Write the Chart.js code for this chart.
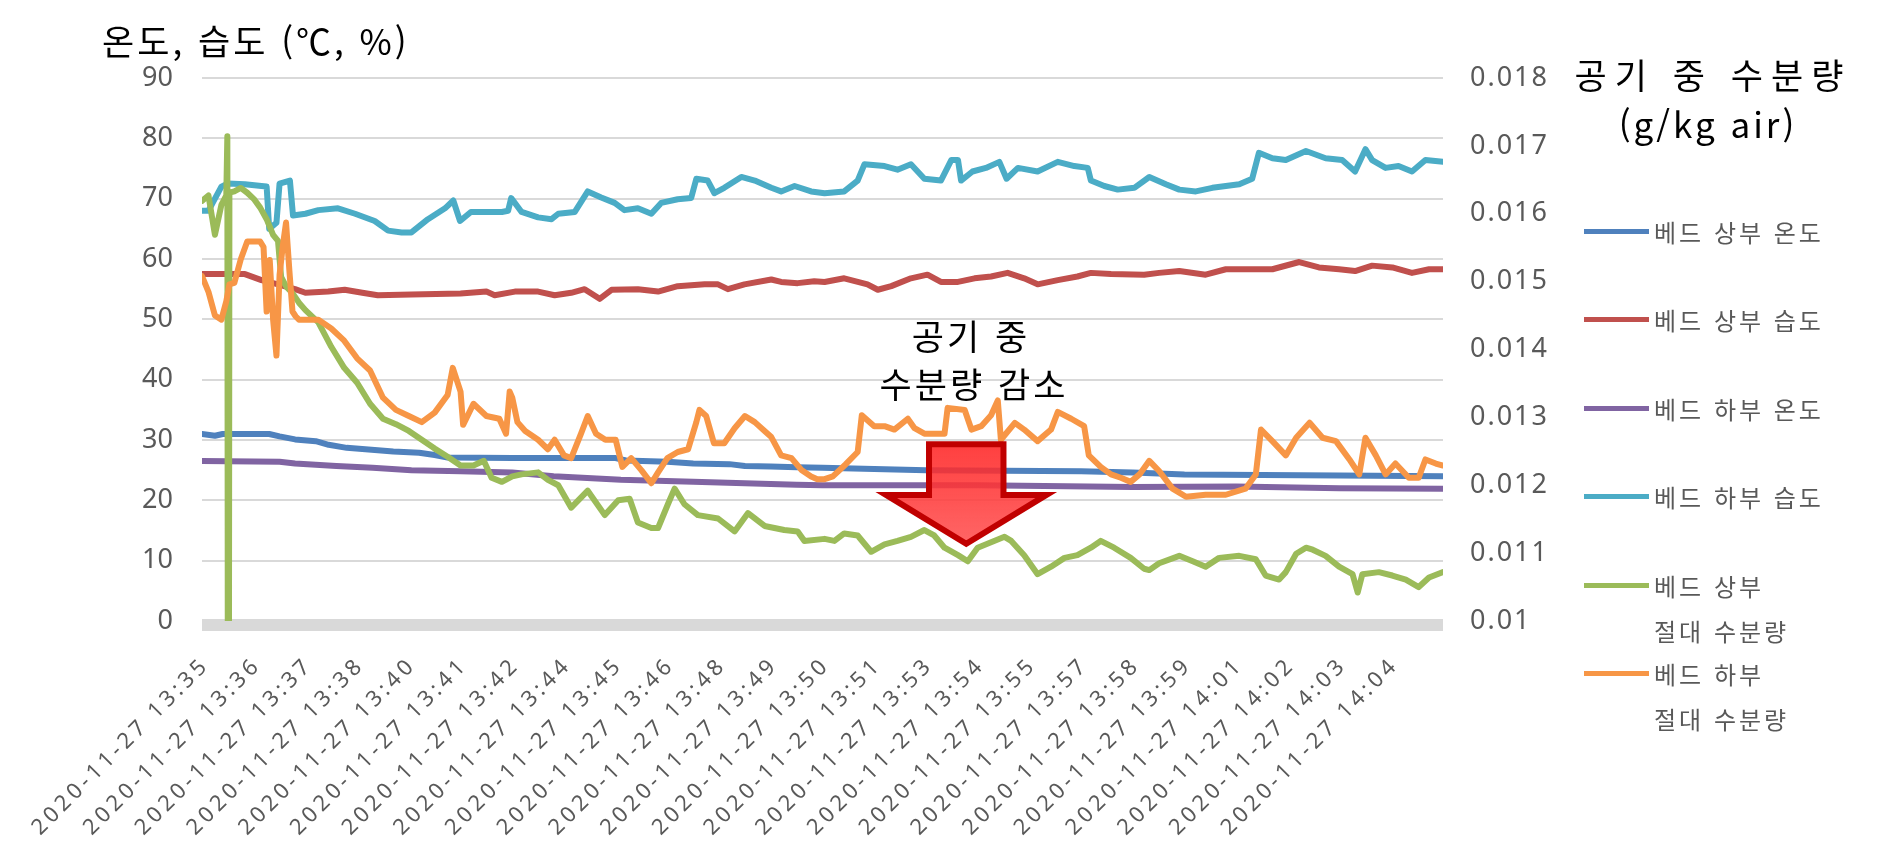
<!DOCTYPE html>
<html lang="ko">
<head>
<meta charset="utf-8">
<title>베드 온습도 및 공기 중 수분량</title>
<script src="https://cdn.jsdelivr.net/npm/chart.js@4.4.1/dist/chart.umd.min.js"></script>
<style>
  html, body { margin: 0; padding: 0; background: #fff; }
  #wrap { position: relative; width: 1879px; height: 857px; overflow: hidden;
          font-family: 'Noto Sans CJK KR', 'Noto Sans', sans-serif; }
  #wrap canvas { position: absolute; left: 0; top: 0; }
  .note { position: absolute; white-space: pre; line-height: 1; transform: translateY(-50%); color: #000; }
  .center { width: 600px; text-align: center; }
  .legend-line { position: absolute; width: 65px; height: 5px; }
  .legend-text { position: absolute; white-space: pre; font-size: 24px; line-height: 45px;
                 letter-spacing: 3px; color: #595959; }
</style>
</head>
<body>
<div id="wrap">
  <canvas id="chart" width="1879" height="857"></canvas>
  <div class="note" style="left:102px; top:39px; font-size:35px; letter-spacing:3px;">온도, 습도 (℃, %)</div>
  <div class="note center" style="left:1405px; top:73px; font-size:35px; letter-spacing:8px; padding-left:8px;">공기 중 수분량</div>
  <div class="note center" style="left:1405px; top:122px; font-size:35px; letter-spacing:3px; padding-left:3px;">(g/kg air)</div>
  <div class="note center" style="left:668px; top:334px; font-size:35px; letter-spacing:3px; padding-left:3px;">공기 중</div>
  <div class="note center" style="left:671px; top:382px; font-size:35px; letter-spacing:3px; padding-left:3px;">수분량 감소</div>
  <div id="legend"></div>
</div>
<script>
// ---- x axis: one unit = one tick label step ----
const timeLabels = [
  '2020-11-27 13:35', '2020-11-27 13:36', '2020-11-27 13:37', '2020-11-27 13:38',
  '2020-11-27 13:40', '2020-11-27 13:41', '2020-11-27 13:42', '2020-11-27 13:44',
  '2020-11-27 13:45', '2020-11-27 13:46', '2020-11-27 13:48', '2020-11-27 13:49',
  '2020-11-27 13:50', '2020-11-27 13:51', '2020-11-27 13:53', '2020-11-27 13:54',
  '2020-11-27 13:55', '2020-11-27 13:57', '2020-11-27 13:58', '2020-11-27 13:59',
  '2020-11-27 14:01', '2020-11-27 14:02', '2020-11-27 14:03', '2020-11-27 14:04'
];

// ---- readings [position, value] ----
// left axis (℃, %)
const bedTopTemp = [[0,31.0],[0.25,30.7],[0.4,31.0],[1.3,31.0],[1.5,30.6],[1.8,30.1],[2.2,29.8],[2.45,29.2],[2.8,28.7],[3.1,28.5],[3.7,28.1],[4.2,27.9],[4.5,27.5],[4.75,27.1],[6,27.0],[8,27.0],[8.2,26.6],[9,26.4],[9.5,26.1],[10.2,26.0],[10.5,25.7],[11,25.6],[11.5,25.5],[12,25.4],[13,25.2],[14,25.0],[15.5,24.9],[17,24.8],[18,24.6],[19,24.3],[20.5,24.2],[22,24.1],[24,24.0]];

const bedTopHum = [[0,57.5],[0.83,57.5],[1.15,56.5],[1.47,55.8],[1.8,55.0],[2.0,54.4],[2.44,54.6],[2.76,54.9],[3.1,54.4],[3.4,54.0],[4.05,54.1],[5.0,54.3],[5.5,54.6],[5.66,54.0],[6.05,54.6],[6.5,54.6],[6.82,54.0],[7.14,54.4],[7.4,55.0],[7.69,53.4],[7.92,54.9],[8.43,55.0],[8.82,54.6],[9.2,55.5],[9.72,55.8],[9.98,55.8],[10.17,55.0],[10.49,55.8],[11.01,56.6],[11.2,56.2],[11.52,56.0],[11.84,56.3],[12.04,56.2],[12.42,56.8],[12.87,55.8],[13.07,54.9],[13.33,55.5],[13.71,56.8],[14.03,57.4],[14.29,56.2],[14.62,56.2],[14.94,56.8],[15.26,57.1],[15.58,57.7],[15.9,56.8],[16.16,55.8],[16.55,56.5],[16.93,57.1],[17.19,57.7],[17.58,57.5],[18.22,57.4],[18.51,57.7],[18.9,58.0],[19.41,57.4],[19.8,58.3],[20.7,58.3],[21.22,59.5],[21.6,58.6],[21.99,58.3],[22.3,58.0],[22.63,58.9],[23.02,58.6],[23.4,57.7],[23.73,58.3],[24,58.3]];

const bedLowTemp = [[0,26.5],[1.5,26.4],[1.8,26.1],[2.6,25.7],[3.3,25.4],[4.05,25.0],[5,24.8],[6,24.6],[6.8,24.0],[8.1,23.4],[9.5,23.1],[11.5,22.6],[12,22.5],[15,22.5],[18,22.2],[20,22.3],[22,22.0],[24,21.9]];

const bedLowHum = [[0,68],[0.125,68],[0.25,70],[0.375,72],[0.5,72.5],[0.83,72.4],[1.15,72.1],[1.25,72],[1.3,65],[1.44,66],[1.5,72.5],[1.7,73],[1.76,67.2],[2.0,67.5],[2.25,68.1],[2.63,68.4],[2.96,67.5],[3.34,66.3],[3.6,64.7],[3.86,64.4],[4.05,64.4],[4.37,66.6],[4.7,68.4],[4.86,69.7],[4.99,66.3],[5.2,67.8],[5.8,67.8],[5.92,68.0],[5.98,70.1],[6.18,67.8],[6.5,66.9],[6.76,66.6],[6.89,67.5],[7.21,67.8],[7.46,71.2],[7.72,70.2],[7.98,69.3],[8.17,68.1],[8.43,68.4],[8.69,67.5],[8.88,69.3],[9.2,69.9],[9.46,70.1],[9.56,73.3],[9.78,73.0],[9.91,70.9],[10.1,71.8],[10.43,73.6],[10.69,73.0],[11.01,71.8],[11.2,71.2],[11.46,72.1],[11.78,71.2],[12.04,70.9],[12.42,71.2],[12.68,73.0],[12.81,75.7],[13.2,75.4],[13.45,74.8],[13.71,75.7],[13.97,73.3],[14.29,73.0],[14.49,76.4],[14.62,76.4],[14.68,73.0],[14.9,74.5],[15.16,75.1],[15.42,76.1],[15.56,73.3],[15.78,75.1],[16.16,74.5],[16.55,76.1],[16.87,75.4],[17.13,75.1],[17.19,73.0],[17.45,72.1],[17.71,71.5],[18.03,71.8],[18.32,73.6],[18.64,72.4],[18.9,71.5],[19.22,71.2],[19.54,71.8],[20.06,72.4],[20.31,73.3],[20.44,77.6],[20.7,76.7],[20.96,76.4],[21.35,77.9],[21.73,76.7],[22.05,76.4],[22.3,74.5],[22.5,78.2],[22.63,76.4],[22.89,75.1],[23.14,75.4],[23.4,74.5],[23.66,76.4],[24,76.1]];

// right axis (air moisture)
const bedTopAbs = [[0,0.01619],[0.125,0.01627],[0.25,0.01569],[0.375,0.01613],[0.47,0.01627],[0.49,0.01714],[0.51,0],[0.53,0.01631],[0.625,0.01633],[0.75,0.01638],[0.875,0.01631],[1.0,0.01622],[1.125,0.01609],[1.25,0.01592],[1.375,0.01569],[1.47,0.0156],[1.53,0.01507],[1.625,0.01493],[1.75,0.01483],[1.875,0.01469],[2.0,0.01458],[2.25,0.0144],[2.5,0.01404],[2.75,0.01373],[3.0,0.01351],[3.25,0.0132],[3.5,0.01298],[3.75,0.0129],[4.0,0.0128],[4.25,0.01267],[4.5,0.01254],[4.75,0.01242],[5.0,0.01229],[5.25,0.01229],[5.45,0.01236],[5.6,0.01211],[5.8,0.01205],[6.0,0.01213],[6.18,0.01216],[6.5,0.01219],[6.69,0.01208],[6.89,0.012],[7.14,0.01167],[7.46,0.01192],[7.79,0.01156],[8.05,0.01178],[8.27,0.0118],[8.43,0.01145],[8.69,0.01137],[8.82,0.01137],[9.01,0.01172],[9.14,0.01195],[9.33,0.01172],[9.59,0.01156],[9.98,0.01151],[10.3,0.01132],[10.56,0.01159],[10.88,0.0114],[11.26,0.01134],[11.52,0.01132],[11.65,0.01118],[12.04,0.01121],[12.23,0.01118],[12.42,0.01129],[12.68,0.01126],[12.94,0.01102],[13.2,0.01113],[13.45,0.01118],[13.71,0.01124],[13.97,0.01134],[14.16,0.01126],[14.36,0.01108],[14.62,0.01097],[14.81,0.01088],[15.0,0.01108],[15.26,0.01116],[15.52,0.01124],[15.65,0.01118],[15.9,0.01097],[16.16,0.01069],[16.42,0.0108],[16.68,0.01093],[16.93,0.01097],[17.19,0.01108],[17.38,0.01118],[17.64,0.01108],[17.96,0.01093],[18.22,0.01077],[18.32,0.01075],[18.51,0.01085],[18.9,0.01096],[19.16,0.01088],[19.41,0.0108],[19.67,0.01093],[20.06,0.01096],[20.38,0.01091],[20.57,0.01067],[20.83,0.01061],[20.96,0.01072],[21.16,0.01099],[21.35,0.01108],[21.48,0.01105],[21.73,0.01096],[21.99,0.0108],[22.25,0.01069],[22.35,0.01042],[22.44,0.01069],[22.76,0.01072],[23.02,0.01067],[23.28,0.01061],[23.53,0.0105],[23.73,0.01064],[24,0.01072]];

const bedLowAbs = [[0,0.01508],[0.125,0.01485],[0.25,0.0145],[0.375,0.01444],[0.47,0.01471],[0.53,0.01496],[0.625,0.01498],[0.75,0.01533],[0.875,0.01559],[1.0,0.01559],[1.125,0.01559],[1.19,0.01551],[1.25,0.01456],[1.31,0.01532],[1.375,0.01444],[1.44,0.01391],[1.5,0.0151],[1.56,0.01551],[1.625,0.01587],[1.69,0.01516],[1.75,0.01456],[1.81,0.01449],[1.875,0.01444],[2.0,0.01444],[2.25,0.01444],[2.5,0.01431],[2.75,0.01413],[3.0,0.01387],[3.25,0.01369],[3.5,0.01329],[3.75,0.01311],[4.0,0.01302],[4.25,0.01293],[4.5,0.01307],[4.75,0.01333],[4.85,0.01373],[5.0,0.01338],[5.05,0.01289],[5.25,0.0132],[5.5,0.01302],[5.75,0.01298],[5.88,0.01276],[5.95,0.01338],[6.0,0.01329],[6.1,0.01293],[6.25,0.0128],[6.5,0.01267],[6.69,0.01253],[6.82,0.01267],[7.0,0.01244],[7.14,0.0124],[7.33,0.01276],[7.46,0.01302],[7.62,0.01276],[7.8,0.01267],[8.0,0.01267],[8.13,0.01227],[8.3,0.0124],[8.5,0.01222],[8.69,0.01203],[8.82,0.01219],[9.0,0.0124],[9.2,0.01249],[9.4,0.01253],[9.56,0.01293],[9.62,0.01311],[9.75,0.01302],[9.9,0.01262],[10.1,0.01262],[10.3,0.01284],[10.5,0.01302],[10.69,0.01293],[10.88,0.0128],[11.01,0.01271],[11.2,0.01244],[11.4,0.0124],[11.6,0.01222],[11.78,0.01213],[11.9,0.01209],[12.04,0.01209],[12.2,0.01213],[12.45,0.01231],[12.68,0.01249],[12.76,0.01303],[13.0,0.01287],[13.2,0.01287],[13.39,0.01282],[13.65,0.01298],[13.78,0.01284],[13.97,0.01276],[14.36,0.01276],[14.42,0.01314],[14.75,0.01311],[14.88,0.01282],[15.07,0.01287],[15.26,0.01303],[15.39,0.01325],[15.45,0.01267],[15.72,0.01292],[15.9,0.01282],[16.16,0.01265],[16.42,0.01282],[16.55,0.01308],[16.81,0.01298],[17.06,0.01287],[17.15,0.01244],[17.38,0.01227],[17.58,0.01216],[17.77,0.01211],[17.96,0.01205],[18.13,0.01216],[18.32,0.01236],[18.51,0.01221],[18.77,0.01195],[19.03,0.01183],[19.41,0.01186],[19.8,0.01186],[20.18,0.01195],[20.38,0.01216],[20.48,0.01282],[20.7,0.01265],[20.96,0.01244],[21.16,0.0127],[21.42,0.01292],[21.67,0.0127],[21.93,0.01265],[22.19,0.01238],[22.38,0.01216],[22.5,0.0127],[22.7,0.01244],[22.89,0.01216],[23.08,0.01232],[23.34,0.01211],[23.53,0.01211],[23.66,0.01238],[23.86,0.01232],[24,0.01229]];

// ---- series meta ----
const seriesNames  = ['베드 상부 온도', '베드 상부 습도', '베드 하부 온도', '베드 하부 습도', '베드 상부\n절대 수분량', '베드 하부\n절대 수분량'];
const seriesData   = [bedTopTemp, bedTopHum, bedLowTemp, bedLowHum, bedTopAbs, bedLowAbs];
const seriesAxis   = ['y', 'y', 'y', 'y', 'y1', 'y1'];
const seriesColors = ['#4F81BD', '#C0504D', '#8064A2', '#4BACC6', '#9BBB59', '#F79646'];
const drawOrder    = [5, 4, 3, 2, 1, 0];

// ---- annotation arrow (in axis units) ----
const arrowNote = { x: 14.78, shaftHalf: 0.72, headHalf: 1.55, top: 29.3, neck: 20.9, tip: 12.8 };

const letterSpacing = { x: '4px', y: '0px', y1: '2px' };

// ---- plugins ----
const spacingPlugin = {
  id: 'tickSpacing',
  afterLayout(chart) {
    Object.keys(letterSpacing).forEach(id => {
      const s = chart.scales[id];
      if (!s || s._spaced) return;
      const orig = s.drawLabels;
      s.drawLabels = function (area) {
        const c = this.ctx;
        c.save();
        c.letterSpacing = letterSpacing[id];
        orig.call(this, area);
        c.restore();
      };
      s._spaced = true;
    });
  }
};

// thick grey category axis line, sitting just under the zero line
const axisBandPlugin = {
  id: 'axisBand',
  beforeDatasetsDraw(chart) {
    const { ctx, chartArea: { left, right, bottom } } = chart;
    ctx.save();
    ctx.fillStyle = '#d9d9d9';
    ctx.fillRect(left, bottom - 2, right - left, 12);
    ctx.restore();
  }
};

const arrowPlugin = {
  id: 'dropArrow',
  afterDatasetsDraw(chart) {
    const { ctx, scales: { x, y } } = chart;
    const a = arrowNote;
    const cx = x.getPixelForValue(a.x);
    const sL = x.getPixelForValue(a.x - a.shaftHalf), sR = x.getPixelForValue(a.x + a.shaftHalf);
    const hL = x.getPixelForValue(a.x - a.headHalf),  hR = x.getPixelForValue(a.x + a.headHalf);
    const yTop = y.getPixelForValue(a.top), yNeck = y.getPixelForValue(a.neck), yTip = y.getPixelForValue(a.tip);
    ctx.save();
    ctx.beginPath();
    ctx.moveTo(sL, yTop);
    ctx.lineTo(sR, yTop);
    ctx.lineTo(sR, yNeck);
    ctx.lineTo(hR, yNeck);
    ctx.lineTo(cx, yTip);
    ctx.lineTo(hL, yNeck);
    ctx.lineTo(sL, yNeck);
    ctx.closePath();
    const g = ctx.createLinearGradient(0, yTop, 0, yTip);
    g.addColorStop(0, 'rgba(255,30,30,0.85)');
    g.addColorStop(1, 'rgba(255,85,85,0.9)');
    ctx.fillStyle = g;
    ctx.fill();
    ctx.lineWidth = 6;
    ctx.lineJoin = 'miter';
    ctx.strokeStyle = '#C00000';
    ctx.stroke();
    ctx.restore();
  }
};

// ---- legend (html) ----
const legendBox = document.getElementById('legend');
seriesNames.forEach((name, i) => {
  const cy = 231 + i * 88.5;
  const line = document.createElement('div');
  line.className = 'legend-line';
  line.style.left = '1584px';
  line.style.top = (cy - 2.5) + 'px';
  line.style.background = seriesColors[i];
  const txt = document.createElement('div');
  txt.className = 'legend-text';
  txt.style.left = '1654px';
  txt.style.top = (cy - 22.5) + 'px';
  txt.textContent = name;
  legendBox.appendChild(line);
  legendBox.appendChild(txt);
});

// ---- chart ----
Chart.defaults.font.family = "'Noto Sans', 'Noto Sans CJK KR', sans-serif";
Chart.defaults.color = '#595959';

new Chart(document.getElementById('chart'), {
  type: 'line',
  data: {
    datasets: seriesData.map((pts, i) => ({
      label: seriesNames[i].replace('\n', ' '),
      data: pts.map(([t, v]) => ({ x: t, y: v })),
      yAxisID: seriesAxis[i],
      borderColor: seriesColors[i],
      backgroundColor: seriesColors[i],
      borderWidth: 6,
      pointRadius: 0,
      tension: 0,
      borderJoinStyle: 'round',
      borderCapStyle: 'round',
      order: drawOrder[i]
    }))
  },
  options: {
    responsive: false,
    animation: false,
    events: [],
    layout: { padding: { top: 78, left: 0, right: 0, bottom: 0 } },
    plugins: { legend: { display: false }, tooltip: { enabled: false } },
    scales: {
      x: {
        type: 'linear', min: 0, max: 24,
        afterBuildTicks: s => { s.ticks = timeLabels.map((_, i) => ({ value: i })); },
        afterFit: s => { s.height = 236; },
        grid: { display: false, drawTicks: false },
        border: { display: false },
        ticks: {
          autoSkip: false, minRotation: 45, maxRotation: 45,
          padding: 31, labelOffset: 4,
          color: '#595959', font: { size: 22 },
          callback: v => timeLabels[v] ?? ''
        }
      },
      y: {
        position: 'left', min: 0, max: 90,
        afterFit: s => { s.width = 202; },
        grid: { color: '#d9d9d9', lineWidth: 2, drawTicks: false },
        border: { display: false },
        ticks: { stepSize: 10, padding: 29, color: '#595959', font: { size: 27 } }
      },
      y1: {
        position: 'right', min: 0.01, max: 0.018,
        afterFit: s => { s.width = 436; },
        grid: { drawOnChartArea: false, drawTicks: false },
        border: { display: false },
        ticks: {
          stepSize: 0.001, padding: 27, color: '#595959', font: { size: 27 },
          callback: v => String(+v.toFixed(3))
        }
      }
    }
  },
  plugins: [spacingPlugin, axisBandPlugin, arrowPlugin]
});
</script>
</body>
</html>
